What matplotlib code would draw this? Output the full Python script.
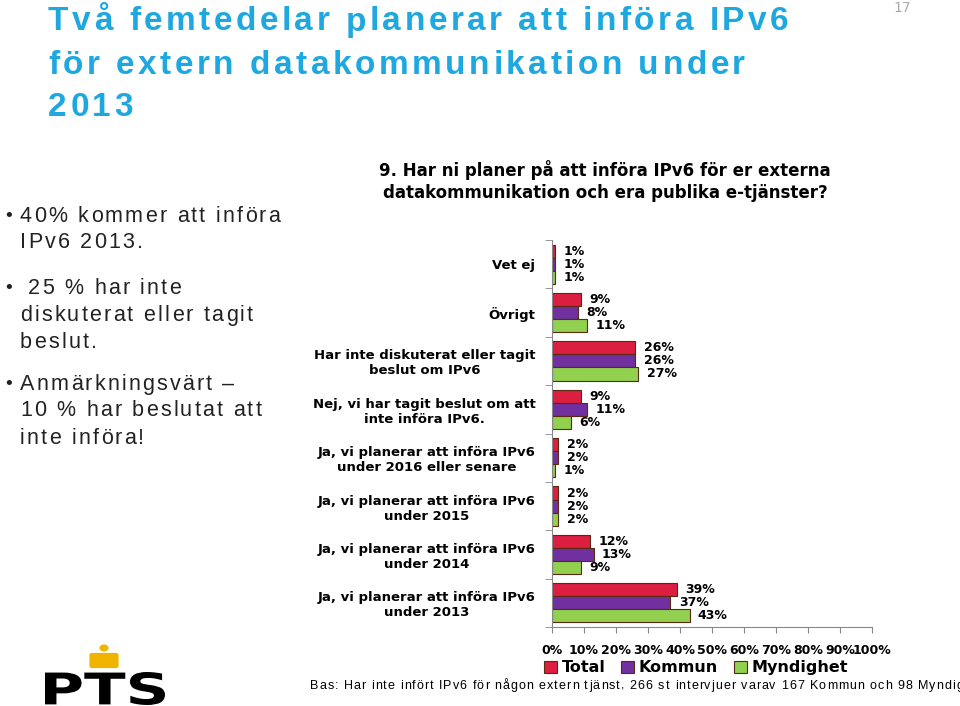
import matplotlib.pyplot as plt
import matplotlib.patches as mpatches
from matplotlib.textpath import TextPath
from matplotlib.font_manager import FontProperties
from matplotlib.transforms import Affine2D
import numpy as np

categories = [
    "Vet ej",
    "Övrigt",
    "Har inte diskuterat eller tagit\nbeslut om IPv6",
    "Nej, vi har tagit beslut om att\ninte införa IPv6.",
    "Ja, vi planerar att införa IPv6\nunder 2016 eller senare",
    "Ja, vi planerar att införa IPv6\nunder 2015",
    "Ja, vi planerar att införa IPv6\nunder 2014",
    "Ja, vi planerar att införa IPv6\nunder 2013",
]
total = [1, 9, 26, 9, 2, 2, 12, 39]
kommun = [1, 8, 26, 11, 2, 2, 13, 37]
myndighet = [1, 11, 27, 6, 1, 2, 9, 43]
series_names = ["Total", "Kommun", "Myndighet"]
colors = ["#dc1e40", "#7030a0", "#92d050"]
xticks = np.arange(0, 101, 10)

fig = plt.figure(figsize=(9.6, 7.06), dpi=100)
renderer = fig.canvas.get_renderer()


def spaced_text(x_px, y_px, s, track, **kw):
    # draw a string char by char with extra letter spacing (pixels)
    x = x_px
    for ch in s:
        t = fig.text(x / 960, 1 - y_px / 706, ch, ha="left", va="center", **kw)
        w = t.get_window_extent(renderer).width
        x += w + track
    return x


# slide title
title_lines = ["Två femtedelar planerar att införa IPv6",
               "för extern datakommunikation under",
               "2013"]
for i, line in enumerate(title_lines):
    spaced_text(48, 22 + i * 43, line, 3.5, color="#1fa8e0",
                fontsize=24, fontweight="bold", family="Liberation Sans")

fig.text(893 / 960, 1 - 8 / 706, "17", color="#aaaaaa", fontsize=10,
         va="center", ha="left")

# bullets
bullets = [
    (216, ["40% kommer att införa", "IPv6 2013."]),
    (288, [" 25 % har inte", "diskuterat eller tagit", "beslut."]),
    (384, ["Anmärkningsvärt –", "10 % har beslutat att", "inte införa!"]),
]
for y0, lines in bullets:
    fig.text(3 / 960, 1 - y0 / 706, "•", fontsize=13, color="#222222",
             va="center", ha="left")
    for j, ln in enumerate(lines):
        spaced_text(20, y0 + j * 27, ln, 2.2, fontsize=15.5,
                    color="#222222", family="Liberation Sans")

# chart title
fig.text(605 / 960, 1 - 181 / 706,
         "9. Har ni planer på att införa IPv6 för er externa\n"
         "datakommunikation och era publika e-tjänster?",
         fontsize=12, fontweight="bold", ha="center", va="center",
         linespacing=1.25)

ax = fig.add_axes([552 / 960, 1 - 627 / 706, 320 / 960, 387 / 706])
y = np.arange(len(categories))
h = 0.27
for k, (vals, name, c) in enumerate(zip([total, kommun, myndighet], series_names, colors)):
    pos = y + (k - 1) * h
    bars = ax.barh(pos, vals, height=h, color=c, edgecolor="#5a2a10",
                   linewidth=0.8, label=name)
    for b, v in zip(bars, vals):
        ax.annotate(f"{v}%", (v, b.get_y() + b.get_height() / 2),
                    xytext=(6, 0), textcoords="offset points",
                    va="center", ha="left", fontsize=9, fontweight="bold")

ax.set_ylim(len(categories) - 0.5, -0.5)
ax.set_xlim(0, 100)
ax.set_yticks(y)
ax.set_yticklabels(categories, fontsize=9.5, fontweight="bold")
for t in ax.get_yticklabels():
    t.set_multialignment("center")
ax.tick_params(axis="y", length=0, pad=12)
ax.set_yticks(np.arange(-0.5, len(categories)), minor=True)
ax.tick_params(axis="y", which="minor", length=5, color="#888888")
ax.set_xticks(xticks)
ax.set_xticklabels([f"{v}%" for v in xticks], fontsize=9, fontweight="bold")
ax.tick_params(axis="x", length=4, color="#888888", pad=8)
for s in ["top", "right"]:
    ax.spines[s].set_visible(False)
for s in ["left", "bottom"]:
    ax.spines[s].set_color("#888888")

ax.legend(loc="upper center", bbox_to_anchor=(0.45, -0.07), ncol=3,
          frameon=False, prop={"weight": "bold", "size": 11.5},
          handlelength=0.8, handleheight=0.8, handletextpad=0.3,
          columnspacing=1.0, borderaxespad=0)

spaced_text(310, 686, "Bas: Har inte infört IPv6 för någon extern tjänst, "
            "266 st intervjuer varav 167 Kommun och 98 Myndighet",
            1.0, fontsize=9, family="Liberation Sans")

# PTS logo, stretched to fit the box of the original
tp = TextPath((0, 0), "PTS", size=1,
              prop=FontProperties(family="DejaVu Sans", weight="bold"))
ext = tp.get_extents()
x0, x1, y0, y1 = 45 / 960, 165 / 960, 1 - 705 / 706, 1 - 672 / 706
tr = (Affine2D().translate(-ext.x0, -ext.y0)
      .scale((x1 - x0) / ext.width, (y1 - y0) / ext.height)
      .translate(x0, y0) + fig.transFigure)
fig.patches.append(mpatches.PathPatch(tp, transform=tr, color="black", lw=0))
crown = mpatches.FancyBboxPatch((92 / 960, 1 - 666 / 706), 24 / 960, 11 / 706,
                                boxstyle="round,pad=0.002", color="#f0b400",
                                transform=fig.transFigure)
fig.patches.append(crown)
fig.patches.append(mpatches.Circle((104 / 960, 1 - 648 / 706), 0.004,
                                   color="#f0b400", transform=fig.transFigure))

fig.savefig("out.png", dpi=100)
